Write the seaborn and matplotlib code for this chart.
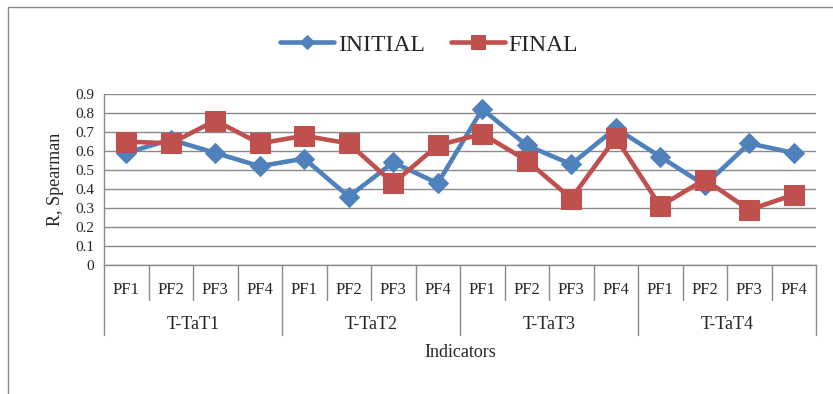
import pandas as pd
import matplotlib.pyplot as plt
import matplotlib.transforms as mtransforms
from matplotlib.patches import Rectangle
import seaborn as sns

# ----------------------------------------------------------
# DATOS
# ----------------------------------------------------------
grupos = ["T-TaT1", "T-TaT2", "T-TaT3", "T-TaT4"]
factores = ["PF1", "PF2", "PF3", "PF4"]

inicial = [0.59, 0.66, 0.59, 0.52,
           0.56, 0.36, 0.54, 0.43,
           0.82, 0.63, 0.53, 0.72,
           0.57, 0.42, 0.64, 0.59]

final = [0.65, 0.64, 0.76, 0.64,
         0.68, 0.64, 0.43, 0.63,
         0.69, 0.55, 0.35, 0.67,
         0.31, 0.45, 0.29, 0.37]

y_ticks = [0, 0.1, 0.2, 0.3, 0.4, 0.5, 0.6, 0.7, 0.8, 0.9]
y_ticklabels = ["0", "0.1", "0.2", "0.3", "0.4", "0.5", "0.6", "0.7", "0.8", "0.9"]

# ----------------------------------------------------------
# DATAFRAME
# ----------------------------------------------------------
etiquetas = [f for g in grupos for f in factores]
pos = list(range(len(etiquetas)))

df = pd.DataFrame({"pos": pos, "INITIAL": inicial, "FINAL": final})

# ----------------------------------------------------------
# ESTILO
# ----------------------------------------------------------
sns.set_style("white")
plt.rcParams["font.family"] = ["Liberation Serif", "DejaVu Serif"]

AZUL = "#4F81BD"
ROJO = "#C0504D"
GRIS = "#8A8A8A"

fig = plt.figure(figsize=(8.33, 3.94), dpi=100)

# posición del área de trazado (en px del original)
L, R, T, B = 104, 816, 94, 265
W, H = 833, 394
ax = fig.add_axes([L / W, 1 - B / H, (R - L) / W, (B - T) / H])

# ----------------------------------------------------------
# SERIES
# ----------------------------------------------------------
sns.lineplot(data=df, x="pos", y="INITIAL", ax=ax, color=AZUL,
             linewidth=3.3, marker="D", markersize=10,
             markeredgecolor=AZUL, label="INITIAL", legend=False, zorder=3)

sns.lineplot(data=df, x="pos", y="FINAL", ax=ax, color=ROJO,
             linewidth=3.3, marker="s", markersize=14,
             markeredgecolor=ROJO, label="FINAL", legend=False, zorder=4)

# ----------------------------------------------------------
# EJES
# ----------------------------------------------------------
ax.set_xlim(-0.5, len(etiquetas) - 0.5)
ax.set_ylim(0, 0.9)

ax.set_yticks(y_ticks)
ax.set_yticklabels(y_ticklabels, fontsize=11)
ax.yaxis.grid(True, color=GRIS, linewidth=1.0)
ax.set_axisbelow(True)

ax.tick_params(axis="y", length=4, color=GRIS, width=1, pad=3)
ax.set_xticks(pos)
ax.set_xticklabels(etiquetas, fontsize=12)
ax.tick_params(axis="x", length=0, pad=12)

for s in ["top", "right"]:
    ax.spines[s].set_visible(False)
for s in ["left", "bottom"]:
    ax.spines[s].set_color(GRIS)
    ax.spines[s].set_linewidth(1.0)

ax.set_xlabel("")
ax.set_ylabel("R, Spearman", fontsize=13)
ax.yaxis.set_label_coords(-40 / (R - L), 0.5)

# separadores del eje de categorías jerárquico
trans = mtransforms.blended_transform_factory(ax.transData, ax.transAxes)
alto = B - T
for i in range(len(etiquetas) + 1):
    largo = 70 if i % 4 == 0 else 35
    ax.plot([i - 0.5, i - 0.5], [0, -largo / alto], transform=trans,
            color=GRIS, linewidth=1.0, clip_on=False)

for j, g in enumerate(grupos):
    ax.text(j * 4 + 1.5, -60 / alto, g, transform=trans,
            ha="center", va="center", fontsize=13)

ax.text(0.5, -88 / alto, "Indicators", transform=ax.transAxes,
        ha="center", va="center", fontsize=13)

# ----------------------------------------------------------
# LEYENDA
# ----------------------------------------------------------
handles, labels = ax.get_legend_handles_labels()
fig.legend(handles, labels, loc="center", bbox_to_anchor=(0.515, 1 - 45 / H),
           ncol=2, frameon=False, fontsize=17, handlelength=2.3,
           handletextpad=0.15, columnspacing=1.1, markerscale=0.7)

# marco exterior del gráfico
fig.patches.append(Rectangle((8 / W, -0.2), 1.2, 1.2 - 7 / H,
                             transform=fig.transFigure, fill=False,
                             edgecolor=GRIS, linewidth=1.0))

plt.savefig("out.png", dpi=100)
plt.close()
